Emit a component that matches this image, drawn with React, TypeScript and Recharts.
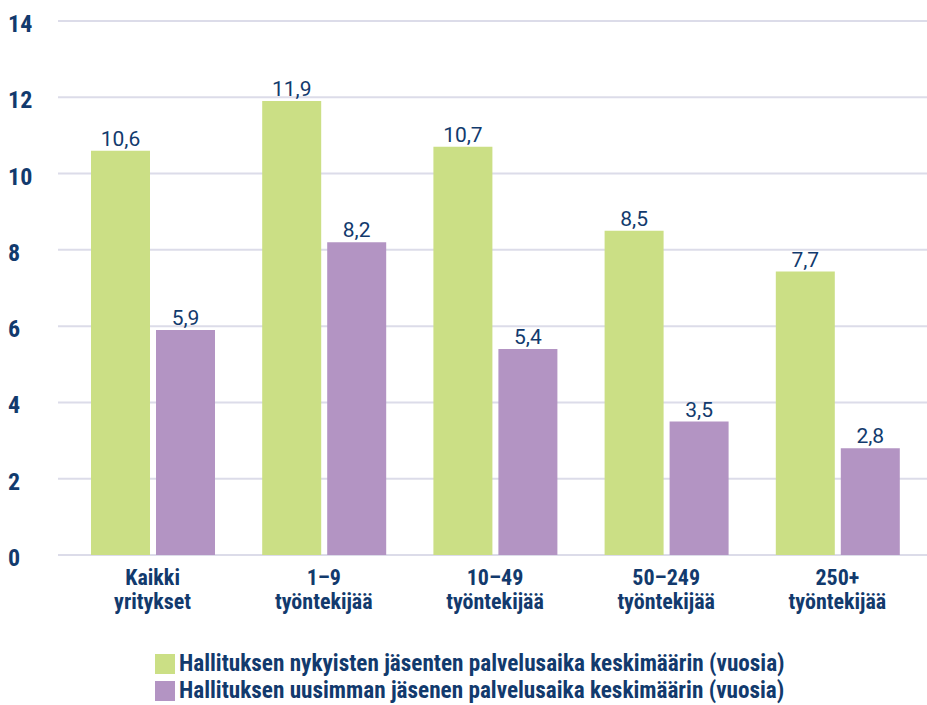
import React from "react";
import { BarChart, Bar, XAxis, YAxis, CartesianGrid, Legend, LabelList } from "recharts";

const categories = ["Kaikki\nyritykset", "1–9\ntyöntekijää", "10–49\ntyöntekijää", "50–249\ntyöntekijää", "250+\ntyöntekijää"];
const currentMembers = [10.6, 11.9, 10.7, 8.5, 7.43];
const currentLabels = ["10,6", "11,9", "10,7", "8,5", "7,7"];
const newestMember = [5.9, 8.2, 5.4, 3.5, 2.8];
const newestLabels = ["5,9", "8,2", "5,4", "3,5", "2,8"];
const yTicks = [0, 2, 4, 6, 8, 10, 12, 14];
const seriesNames = [
  "Hallituksen nykyisten jäsenten palvelusaika keskimäärin (vuosia)",
  "Hallituksen uusimman jäsenen palvelusaika keskimäärin (vuosia)",
];

const NAVY = "#123a6d";
const GREEN = "#cbdf85";
const PURPLE = "#b394c3";
const COND = "'Liberation Sans Narrow', 'Roboto Condensed', Roboto, sans-serif";
const REG = "Roboto, 'Open Sans', sans-serif";

const data = categories.map((c, i) => ({
  name: c,
  a: currentMembers[i],
  aLabel: currentLabels[i],
  b: newestMember[i],
  bLabel: newestLabels[i],
}));

const YTick = (props: any) => {
  const { y, payload } = props;
  return (
    <text x={8} y={y + 11} textAnchor="start" fill={NAVY} fontFamily={COND} fontWeight="bold" fontSize={24}>
      {payload.value}
    </text>
  );
};

const XTick = (props: any) => {
  const { x, payload } = props;
  const lines = String(payload.value).split("\n");
  return (
    <g>
      {lines.map((l, i) => (
        <text key={i} x={x} y={585 + i * 24} textAnchor="middle" fill={NAVY} fontFamily={COND} fontWeight="bold" fontSize={22}>
          {l}
        </text>
      ))}
    </g>
  );
};

const LegendContent = () => (
  <div style={{ fontFamily: COND, fontWeight: "bold", fontSize: 23.2, color: NAVY, lineHeight: "27px" }}>
    {seriesNames.map((n, i) => (
      <div key={i} style={{ display: "flex", alignItems: "center", whiteSpace: "nowrap" }}>
        <span style={{ display: "inline-block", width: 20, height: 20, background: i === 0 ? GREEN : PURPLE, marginRight: 4 }} />
        <span>{n}</span>
      </div>
    ))}
  </div>
);

export default function App() {
  return (
    <div style={{ position: "absolute", left: 0, top: 0, width: 927, height: 705, background: "#fff" }}>
      <BarChart
        width={927}
        height={705}
        data={data}
        margin={{ top: 21, right: 0, bottom: 0, left: 0 }}
        barSize={59}
        barGap={6}
      >
        <CartesianGrid vertical={false} stroke="#dcdce9" strokeWidth={2} />
        <XAxis
          dataKey="name"
          height={150}
          axisLine={false}
          tickLine={false}
          tick={<XTick />}
          interval={0}
          padding={{ left: 9, right: 4 }}
        />
        <YAxis
          width={58}
          domain={[0, 14]}
          ticks={yTicks}
          axisLine={false}
          tickLine={false}
          tick={<YTick />}
          interval={0}
        />
        <Legend
          layout="horizontal"
          verticalAlign="middle"
          align="center"
          content={<LegendContent />}
          wrapperStyle={{ position: "absolute", top: 650, left: 155, width: "auto" }}
        />
        <Bar dataKey="a" name={seriesNames[0]} fill={GREEN} isAnimationActive={false}>
          <LabelList dataKey="aLabel" position="top" offset={5} fill={NAVY} fontFamily={REG} fontSize={21} />
        </Bar>
        <Bar dataKey="b" name={seriesNames[1]} fill={PURPLE} isAnimationActive={false}>
          <LabelList dataKey="bLabel" position="top" offset={5} fill={NAVY} fontFamily={REG} fontSize={21} />
        </Bar>
      </BarChart>
    </div>
  );
}
